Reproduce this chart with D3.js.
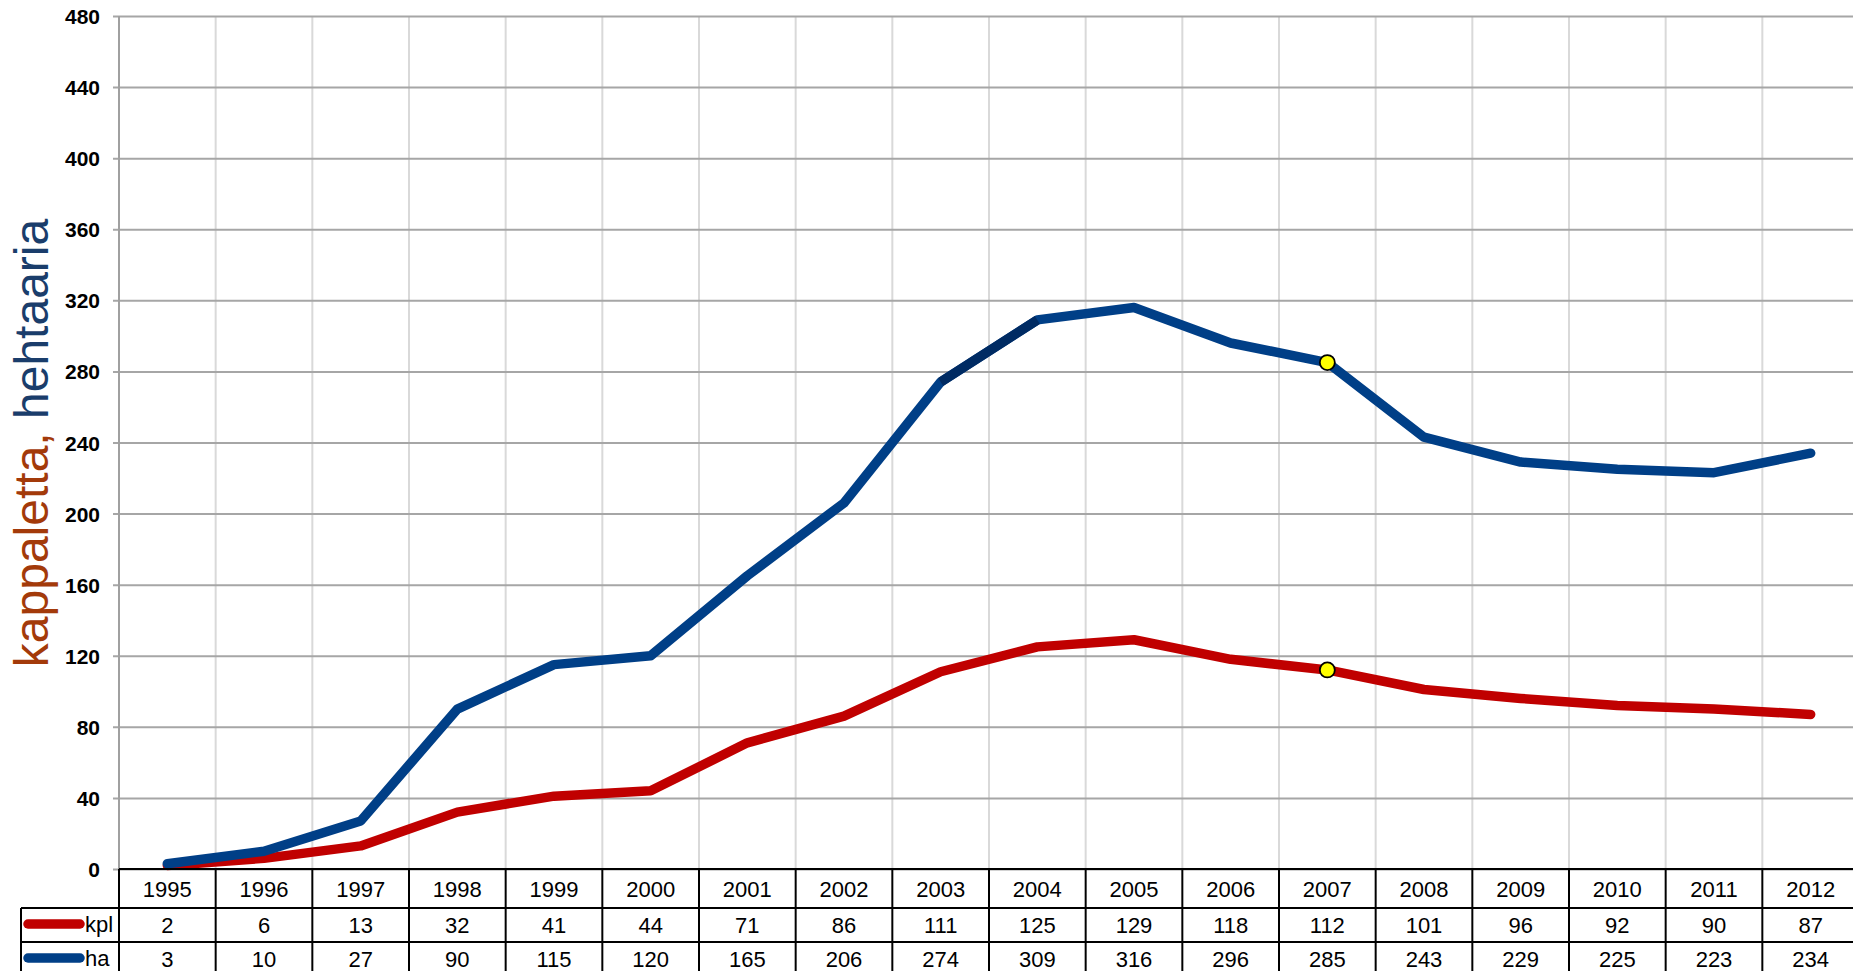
<!DOCTYPE html>
<html>
<head>
<meta charset="utf-8">
<script src="https://cdn.jsdelivr.net/npm/d3@7"></script>
<style>
  body { margin: 0; background: #fff; }
  svg { display: block; font-family: "Liberation Sans", Arial, sans-serif; }
</style>
</head>
<body>
<svg></svg>
<script>
var years = [1995,1996,1997,1998,1999,2000,2001,2002,2003,2004,2005,2006,2007,2008,2009,2010,2011,2012];
var kpl = [2,6,13,32,41,44,71,86,111,125,129,118,112,101,96,92,90,87];
var ha = [3,10,27,90,115,120,165,206,274,309,316,296,285,243,229,225,223,234];
var yTicks = [0,40,80,120,160,200,240,280,320,360,400,440,480];
var highlightYear = 2007;

var screen = {width:1853, height:971};
var plot = {left:119, right:1859, top:16, bottom:869};
var rowH = [39, 34, 34];

var series = [
    {name:"kpl", values:kpl, color:"#c00000"},
    {name:"ha", values:ha, color:"#003f87"}
];

var svg = d3.select("svg")
    .attr("width", screen.width)
    .attr("height", screen.height);

var xScale = d3.scaleBand()
    .domain(years)
    .range([plot.left, plot.right]);

var yScale = d3.scaleLinear()
    .domain([0, 480])
    .range([plot.bottom, plot.top]);

var cx = function(y) { return xScale(y) + xScale.bandwidth()/2; };

// vertical gridlines
svg.append("g")
    .selectAll("line")
    .data(years.slice(1))
    .enter()
    .append("line")
    .attr("x1", function(d){ return xScale(d); })
    .attr("x2", function(d){ return xScale(d); })
    .attr("y1", plot.top)
    .attr("y2", plot.bottom)
    .attr("stroke", "#d9d9d9")
    .attr("stroke-width", 2);

// y axis
var yAxis = d3.axisLeft(yScale)
    .tickValues(yTicks)
    .tickSize(plot.right - plot.left)
    .tickPadding(0);

var gy = svg.append("g")
    .attr("transform", "translate(" + plot.right + ",0)")
    .call(yAxis);
gy.attr("font-size", null).attr("font-family", null);
gy.select(".domain").remove();
gy.selectAll(".tick line")
    .attr("stroke", "#a6a6a6")
    .attr("stroke-width", 2)
    .attr("x2", -(plot.right - plot.left) - 6)
    .attr("x1", 0);
gy.selectAll(".tick text")
    .attr("x", -(plot.right - plot.left) - 19)
    .attr("dy", "0.36em")
    .attr("fill", "#000")
    .style("font-size", "21px")
    .style("font-weight", "bold")
    .style("font-family", "'Liberation Sans', Arial, sans-serif");

svg.append("line")
    .attr("x1", plot.left).attr("x2", plot.left)
    .attr("y1", plot.top).attr("y2", plot.bottom)
    .attr("stroke", "#a0a0a0")
    .attr("stroke-width", 2);

// y title
var title = svg.append("text")
    .attr("transform", "translate(48," + 443 + ") rotate(-90)")
    .attr("text-anchor", "middle")
    .style("font-size", "48px");
title.append("tspan").attr("fill", "#a33a0a").text("kappaletta, ");
title.append("tspan").attr("fill", "#1a3d6b").text("hehtaaria");

// lines
var line = d3.line()
    .x(function(d, i){ return cx(years[i]); })
    .y(function(d){ return yScale(d); });

svg.append("g")
    .selectAll("path")
    .data(series)
    .enter()
    .append("path")
    .attr("d", function(s){ return line(s.values); })
    .attr("fill", "none")
    .attr("stroke", function(s){ return s.color; })
    .attr("stroke-width", 9.5)
    .attr("stroke-linecap", "round")
    .attr("stroke-linejoin", "round");

// darker segment 2003-2004 on ha
var i3 = years.indexOf(2003);
svg.append("line")
    .attr("x1", cx(years[i3])).attr("y1", yScale(ha[i3]))
    .attr("x2", cx(years[i3+1])).attr("y2", yScale(ha[i3+1]))
    .attr("stroke", "#002b63")
    .attr("stroke-width", 9.5);

// highlight markers
var hi = years.indexOf(highlightYear);
svg.append("g")
    .selectAll("circle")
    .data(series)
    .enter()
    .append("circle")
    .attr("cx", cx(highlightYear))
    .attr("cy", function(s){ return yScale(s.values[hi]); })
    .attr("r", 7.5)
    .attr("fill", "#ffff00")
    .attr("stroke", "#000")
    .attr("stroke-width", 1.8);

// data table
var table = svg.append("g");
var t0 = plot.bottom;
var t1 = t0 + rowH[0];
var t2 = t1 + rowH[1];
var t3 = t2 + rowH[2];
var legendLeft = 21;

table.append("line")
    .attr("x1", plot.left).attr("x2", plot.right)
    .attr("y1", t0).attr("y2", t0)
    .attr("stroke", "#000").attr("stroke-width", 2);
[t1, t2].forEach(function(y){
    table.append("line")
        .attr("x1", legendLeft).attr("x2", plot.right)
        .attr("y1", y).attr("y2", y)
        .attr("stroke", "#000").attr("stroke-width", 2);
});
table.selectAll(".vl")
    .data(years.concat(["end"]))
    .enter()
    .append("line")
    .attr("x1", function(d){ return d === "end" ? plot.right : xScale(d); })
    .attr("x2", function(d){ return d === "end" ? plot.right : xScale(d); })
    .attr("y1", t0).attr("y2", t3)
    .attr("stroke", "#000").attr("stroke-width", 2);
table.append("line")
    .attr("x1", legendLeft).attr("x2", legendLeft)
    .attr("y1", t1).attr("y2", t3)
    .attr("stroke", "#000").attr("stroke-width", 2);

table.selectAll(".yr")
    .data(years)
    .enter()
    .append("text")
    .attr("x", function(d){ return cx(d); })
    .attr("y", t0 + 28)
    .attr("text-anchor", "middle")
    .style("font-size", "22px")
    .text(function(d){ return d; });

series.forEach(function(s, r){
    var yb = (r === 0 ? t1 : t2);
    table.selectAll(".v" + r)
        .data(s.values)
        .enter()
        .append("text")
        .attr("x", function(d, i){ return cx(years[i]); })
        .attr("y", yb + 25)
        .attr("text-anchor", "middle")
        .style("font-size", "22px")
        .text(function(d){ return d; });
    table.append("line")
        .attr("x1", 28).attr("x2", 80)
        .attr("y1", yb + 16).attr("y2", yb + 16)
        .attr("stroke", s.color)
        .attr("stroke-width", 9.5)
        .attr("stroke-linecap", "round");
    table.append("text")
        .attr("x", 85)
        .attr("y", yb + 24)
        .style("font-size", "22px")
        .text(s.name);
});
</script>
</body>
</html>
